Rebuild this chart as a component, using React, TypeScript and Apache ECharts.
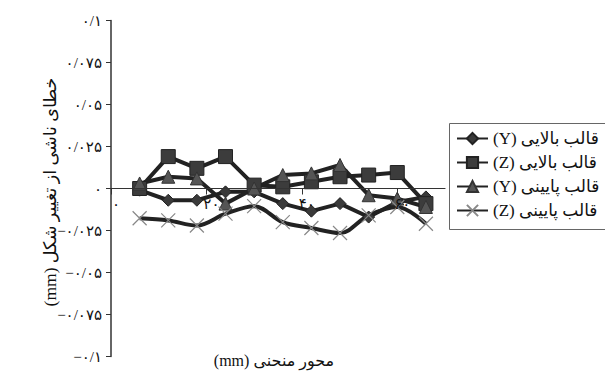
import React, { useEffect, useRef } from "react";
import * as echarts from "echarts";

// ---- data ----
const xPositions = [6, 12, 18, 24, 30, 36, 42, 48, 54, 60, 66];
const upperY = [-0.001, -0.007, -0.007, -0.002, -0.002, -0.009, -0.0135, -0.009, -0.017, -0.008, -0.005];
const upperZ = [0, 0.019, 0.012, 0.019, 0.002, 0.001, 0.004, 0.007, 0.008, 0.0095, -0.009];
const lowerY = [0.003, 0.007, 0.006, -0.009, 0.0, 0.008, 0.009, 0.014, -0.004, -0.006, -0.011];
const lowerZ = [-0.0177, -0.019, -0.022, -0.015, -0.0105, -0.02, -0.0235, -0.0265, -0.016, -0.011, -0.021];

const seriesNames = [
  "(Y) قالب بالایی",
  "(Z) قالب بالایی",
  "(Y) قالب پایینی",
  "(Z) قالب پایینی",
];

const yTicks = [-0.1, -0.075, -0.05, -0.025, 0, 0.025, 0.05, 0.075, 0.1];
const yTickLabels = ["−۰/۱", "−۰/۰۷۵", "−۰/۰۵", "−۰/۰۲۵", "۰", "۰/۰۲۵", "۰/۰۵", "۰/۰۷۵", "۰/۱"];
const xTicks = [0, 20, 40, 60];
const xTickLabels = ["۰", "۲۰", "۴۰", "۶۰"];

const yTitle = "(mm) خطای ناشی از تغییر شکل";
const xTitle = "(mm) محور منحنی";

const FONT = '"Liberation Serif", "DejaVu Sans", serif';
const DARK = "#222";

function pairs(ys: number[]) {
  return ys.map((y, i) => [xPositions[i], y]);
}

export default function App() {
  const ref = useRef<HTMLDivElement>(null);
  useEffect(() => {
    if (!ref.current) return;
    const chart = echarts.init(ref.current, undefined, { renderer: "svg" });
    const lineStyle = { color: DARK, width: 4 };
    chart.setOption({
      animation: false,
      backgroundColor: "#ffffff",
      grid: {
        left: 111,
        right: 160,
        top: 20.5,
        bottom: 14.5,
        containLabel: false,
        outerBoundsMode: "none",
      },
      xAxis: {
        type: "value",
        min: 0,
        max: 70,
        interval: 20,
        position: "bottom",
        offset: -168,
        z: 5,
        splitLine: { show: false },
        axisLine: { show: true, onZero: false, lineStyle: { color: "#333", width: 1.2 } },
        axisTick: { show: true, length: 6, lineStyle: { color: "#333" } },
        axisLabel: {
          showMaxLabel: false,
          hideOverlap: false,
          margin: 8,
          padding: [0, 0, 0, 10],
          fontFamily: FONT,
          fontSize: 15,
          color: "#111",
          formatter: (v: number) => {
            const i = xTicks.indexOf(Math.round(v));
            return i >= 0 ? xTickLabels[i] : "";
          },
        },
      },
      yAxis: {
        type: "value",
        min: -0.1,
        max: 0.1,
        interval: 0.025,
        splitLine: { show: false },
        axisLine: { show: true, onZero: false, lineStyle: { color: "#333", width: 1.5 } },
        axisTick: { show: true, length: 5, lineStyle: { color: "#333" } },
        axisLabel: {
          margin: 9,
          fontFamily: FONT,
          fontSize: 15,
          color: "#111",
          formatter: (v: number) => {
            const i = yTicks.findIndex((t) => Math.abs(t - v) < 1e-6);
            return i >= 0 ? yTickLabels[i] : "";
          },
        },
      },
      legend: {
        orient: "vertical",
        left: 456,
        top: 130,
        padding: 0,
        itemGap: 7,
        itemWidth: 31,
        itemHeight: 14,
        z: 6,
        textStyle: { fontFamily: FONT, fontSize: 17, color: "#111" },
        data: seriesNames,
      },
      series: [
        {
          name: seriesNames[0],
          type: "line",
          data: pairs(upperY),
          symbol: "diamond",
          symbolSize: 12,
          lineStyle,
          itemStyle: { color: "#3a3a3a", borderColor: "#222", borderWidth: 1 },
        },
        {
          name: seriesNames[1],
          type: "line",
          data: pairs(upperZ),
          symbol: "rect",
          symbolSize: 14,
          lineStyle,
          itemStyle: { color: "#3c3c3c", borderColor: "#222", borderWidth: 1 },
        },
        {
          name: seriesNames[2],
          type: "line",
          data: pairs(lowerY),
          symbol: "triangle",
          symbolSize: 13,
          lineStyle,
          itemStyle: { color: "#555", borderColor: "#333", borderWidth: 1 },
        },
        {
          name: seriesNames[3],
          type: "line",
          data: pairs(lowerZ),
          smooth: 0.35,
          symbol: "path://M0,0L10,10M10,0L0,10",
          symbolSize: 14,
          lineStyle,
          itemStyle: { color: "#888", borderColor: "#888", borderWidth: 1.2 },
        },
      ],
      graphic: [
        {
          type: "rect",
          z: 1,
          shape: { x: 449.5, y: 123.5, width: 170, height: 106 },
          style: { fill: "#fff", stroke: "#666", lineWidth: 1 },
        },
        {
          type: "text",
          x: 50,
          y: 192,
          rotation: Math.PI / 2,
          style: {
            text: yTitle,
            align: "center",
            verticalAlign: "middle",
            font: `17.5px ${FONT}`,
            fill: "#111",
          },
        },
        {
          type: "text",
          x: 274,
          y: 360,
          style: {
            text: xTitle,
            align: "center",
            verticalAlign: "middle",
            font: `16px ${FONT}`,
            fill: "#111",
          },
        },
      ],
    });
    return () => chart.dispose();
  }, []);
  return (
    <div
      ref={ref}
      style={{ position: "fixed", left: 0, top: 0, width: 605, height: 371, background: "#fff" }}
    />
  );
}
